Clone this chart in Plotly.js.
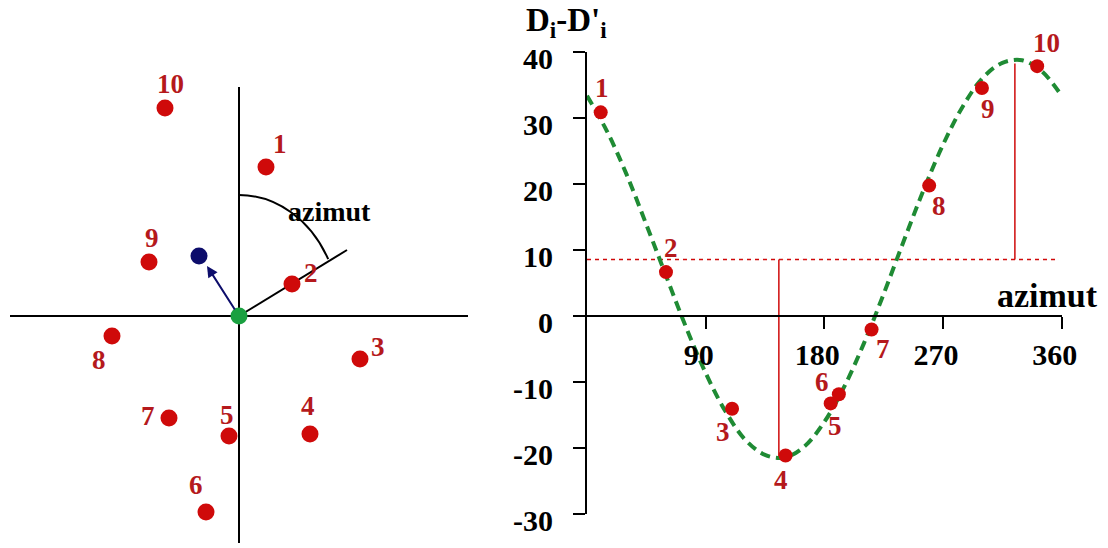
<!DOCTYPE html>
<html>
<head>
<meta charset="utf-8">
<script src="https://cdn.plot.ly/plotly-3.0.1.min.js"></script>
<style>html,body{margin:0;padding:0;background:#fff;}#chart{width:1108px;height:548px;}</style>
</head>
<body>
<div id="chart"></div>
<script>
// ---- data: right chart (azimuth vs D_i - D'_i) ----
const pointLabels = ['1','2','3','4','5','6','7','8','9','10'];
const azimuths = [10.4, 59.9, 110, 150.6, 184.8, 191, 215.8, 259.5, 299.5, 341.4];
const diffs    = [30.9, 6.7, -14.0, -21.1, -13.2, -11.8, -2.0, 19.8, 34.6, 37.9];
// fitted (green dashed) curve
const curveAz  = [0,15,30,45,60,75,90,105,120,135,150,165,180,195,210,225,240,255,270,285,300,315,330,345,360];
const curveVal = [33.4,28.1,21.5,13.9,6.1,-1.6,-8.6,-14.4,-18.7,-21.0,-21.4,-19.7,-16.0,-10.7,-4.1,3.4,11.3,19.0,26.0,31.8,36.1,38.4,38.8,37.1,33.4];
const meanLevel = 8.6;
const meanLineAz = [0, 356];
const minAz = 145.5, minVal = -21.5;
const maxAz = 324.5, maxVal = 38.3;
const xTicks = [90, 180, 270, 360];
const yTicks = [-30, -20, -10, 0, 10, 20, 30, 40];

// ---- data: left diagram (station positions around the centre) ----
const leftX = [27, 53, 121, 71, -10, -33, -70, -127, -90, -74];
const leftY = [149, 32, -43, -118, -120, -196, -102, -20, 54, 208];
const blueX = [-40], blueY = [60];
const centreX = [0], centreY = [0];
const azLineEnd = [108, 66];
const arrowTip = [-32, 50];

// ---- label offsets (px: dx right, dy down) ----
const leftOffsets  = [[14,-23],[19,-11],[18,-12],[-2,-28],[-2,-21],[-10,-27],[-21,-2],[-13,24],[3,-24],[5,-24]];
const rightOffsets = [[1,-24],[5,-24],[-9,23],[-5,24],[4,23],[-17,-12],[11,19],[10,20],[6,21],[9,-23]];

const RED = '#cf0a0a', LABEL_RED = '#b5191c', GREEN = '#1f8b34', NAVY = '#0d0d6b';
const SERIF = 'Liberation Serif, Times New Roman, serif';

const traces = [
  // right chart
  {x: meanLineAz, y: [meanLevel, meanLevel], mode: 'lines', line: {color: RED, width: 1.5, dash: '4px,4px'}, xaxis: 'x', yaxis: 'y', hoverinfo: 'skip'},
  {x: [minAz, minAz], y: [meanLevel, minVal], mode: 'lines', line: {color: RED, width: 1.5}, xaxis: 'x', yaxis: 'y', hoverinfo: 'skip'},
  {x: [maxAz, maxAz], y: [meanLevel, maxVal], mode: 'lines', line: {color: RED, width: 1.5}, xaxis: 'x', yaxis: 'y', hoverinfo: 'skip'},
  {x: curveAz, y: curveVal, mode: 'lines', line: {color: GREEN, width: 4, dash: '10px,6px', shape: 'spline', smoothing: 1}, xaxis: 'x', yaxis: 'y', cliponaxis: false},
  {x: azimuths, y: diffs, mode: 'markers', marker: {color: RED, size: 14}, xaxis: 'x', yaxis: 'y', cliponaxis: false},
  // left diagram
  {x: leftX, y: leftY, mode: 'markers', marker: {color: RED, size: 17}, xaxis: 'x2', yaxis: 'y2', cliponaxis: false},
  {x: blueX, y: blueY, mode: 'markers', marker: {color: NAVY, size: 17}, xaxis: 'x2', yaxis: 'y2', cliponaxis: false},
  {x: centreX, y: centreY, mode: 'markers', marker: {color: '#1aa040', size: 17}, xaxis: 'x2', yaxis: 'y2', cliponaxis: false}
];

const annotations = [];
pointLabels.forEach((t, i) => {
  annotations.push({xref: 'x', yref: 'y', x: azimuths[i], y: diffs[i], text: t, showarrow: false,
    xshift: rightOffsets[i][0], yshift: -rightOffsets[i][1],
    font: {family: SERIF, size: 27, color: LABEL_RED, weight: 'bold'}});
  annotations.push({xref: 'x2', yref: 'y2', x: leftX[i], y: leftY[i], text: t, showarrow: false,
    xshift: leftOffsets[i][0], yshift: -leftOffsets[i][1],
    font: {family: SERIF, size: 27, color: LABEL_RED, weight: 'bold'}});
});
annotations.push({xref: 'x2', yref: 'y2', x: arrowTip[0], y: arrowTip[1], ax: 0, ay: 0, axref: 'x2', ayref: 'y2',
  text: '', showarrow: true, arrowhead: 2, arrowsize: 1.1, arrowwidth: 2, arrowcolor: NAVY, startstandoff: 6});
annotations.push({xref: 'x2', yref: 'y2', x: 90, y: 105, text: 'azimut', showarrow: false,
  font: {family: SERIF, size: 28, color: '#000', weight: 'bold'}});
annotations.push({xref: 'paper', yref: 'paper', x: 1047.5/1108, y: 1 - 295/548, text: 'azimut', showarrow: false,
  xanchor: 'center', yanchor: 'middle', font: {family: SERIF, size: 34, color: '#000', weight: 'bold'}});
annotations.push({xref: 'paper', yref: 'paper', x: 566/1108, y: 1 - 22/548, text: "D<sub>i</sub>-D'<sub>i</sub>", showarrow: false,
  xanchor: 'center', yanchor: 'middle', font: {family: SERIF, size: 33, color: '#000', weight: 'bold'}});

const shapes = [
  {type: 'line', xref: 'x2', yref: 'y2', x0: -229, x1: 229, y0: 0, y1: 0, line: {color: '#000', width: 2}, layer: 'below'},
  {type: 'line', xref: 'x2', yref: 'y2', x0: 0, x1: 0, y0: 229, y1: -227, line: {color: '#000', width: 2}, layer: 'below'},
  {type: 'line', xref: 'x2', yref: 'y2', x0: 0, y0: 0, x1: azLineEnd[0], y1: azLineEnd[1], line: {color: '#000', width: 2}, layer: 'below'},
  {type: 'path', xref: 'x2', yref: 'y2', path: 'M 0,121 C 37.3,121 71.7,96.3 89.2,56.8', line: {color: '#000', width: 2}, layer: 'below'}
];

const tickFont = {family: SERIF, size: 30, color: '#000', weight: 'bold'};
const layout = {
  width: 1108, height: 548,
  margin: {l: 0, r: 0, t: 0, b: 0},
  paper_bgcolor: '#fff', plot_bgcolor: 'rgba(0,0,0,0)',
  showlegend: false,
  xaxis: {domain: [587/1108, 1061.7/1108], range: [0, 360], anchor: 'free', position: 1 - 316.3/548,
    tickvals: xTicks, ticktext: xTicks.map(String), ticks: 'outside', ticklen: 12, tickwidth: 2, tickcolor: '#000',
    showline: true, linecolor: '#000', linewidth: 2, showgrid: false, zeroline: false,
    tickfont: tickFont, ticklabelshift: -7, ticklabelstandoff: 0},
  yaxis: {domain: [1 - 514.3/548, 1 - 52.3/548], range: [-30, 40], anchor: 'x',
    tickvals: yTicks, ticktext: yTicks.map(String), ticks: 'outside', ticklen: 12, tickwidth: 2, tickcolor: '#000',
    showline: true, linecolor: '#000', linewidth: 2, showgrid: false, zeroline: false,
    tickfont: tickFont, ticklabelstandoff: 14, ticklabelshift: 6},
  xaxis2: {domain: [0, 480/1108], range: [-239, 241], visible: false, anchor: 'y2'},
  yaxis2: {domain: [0, 1], range: [-232, 316], visible: false, anchor: 'x2'},
  annotations: annotations,
  shapes: shapes
};

Plotly.newPlot('chart', traces, layout, {staticPlot: true, displayModeBar: false});
</script>
</body>
</html>
